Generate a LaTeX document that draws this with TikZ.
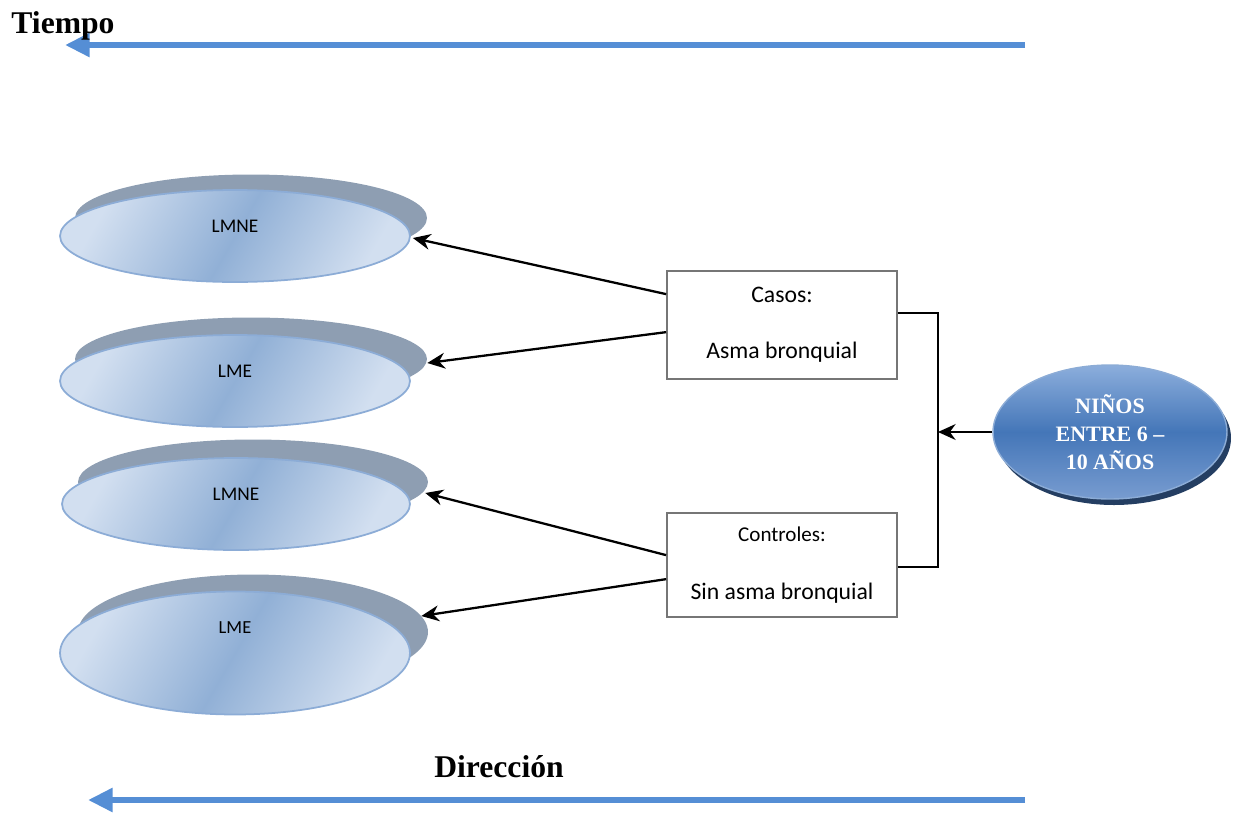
\documentclass[tikz,border=0pt]{standalone}
\usepackage{fontspec}
\setmainfont{Carlito}
\newfontfamily\serifbf{Liberation Serif}[BoldFont={Liberation Serif Bold}]
\usetikzlibrary{shapes.geometric,arrows.meta,calc}
\definecolor{flecha}{RGB}{85,142,213}
\definecolor{sombra}{RGB}{142,158,178}
\definecolor{borde}{RGB}{140,172,214}
\definecolor{clarito}{RGB}{210,223,240}
\definecolor{medio}{RGB}{145,176,214}
\definecolor{gris}{RGB}{118,118,118}
\definecolor{azulalto}{RGB}{140,174,220}
\definecolor{azulmedio}{RGB}{68,118,184}
\definecolor{azulbajo}{RGB}{120,156,208}
\definecolor{marino}{RGB}{36,62,98}
\tikzset{
  fondo/.style={ellipse,fill=sombra,draw=none,minimum width=7.04cm,minimum height=1.74cm,inner sep=0pt},
  ovalo/.style={ellipse,draw=borde,line width=1pt,left color=clarito,right color=clarito,middle color=medio,shading angle=60,minimum width=7cm,minimum height=1.84cm,inner sep=0pt},
  caja/.style={draw=gris,line width=1pt,fill=white,minimum width=4.6cm,minimum height=2.16cm,align=center,inner sep=0pt},
  flechaazul/.style={flecha,line width=3.4pt,-{Triangle[length=14pt,width=13pt]}},
  flechanegra/.style={line width=1.3pt,-{Stealth[length=10pt,width=9pt]}},
  rotulo/.style={font=\fontsize{11}{13}\selectfont}
}
\begin{document}
\begin{tikzpicture}[x=0.02cm,y=-0.02cm]
      \useasboundingbox (0,0) rectangle (1235,815);
      % flechas de tiempo y direccion
      \coordinate (t0) at (1025,45);
      \coordinate (t1) at (65,45);
      \draw[flechaazul] (t0) -- (t1);
      \node[anchor=base,font=\serifbf\bfseries\fontsize{18}{20}\selectfont] (tiempo) at (63,33) {Tiempo};
      \coordinate (d0) at (1025,800);
      \coordinate (d1) at (88,800);
      \draw[flechaazul] (d0) -- (d1);
      \node[anchor=base,font=\serifbf\bfseries\fontsize{18}{20}\selectfont] (direccion) at (499,777) {Dirección};
      % ovalos
      \node[fondo] (sh1) at (251,218) {};
      \node[ovalo] (e1) at (235,236) {};
      \node[rotulo] (l1) at ($(e1)+(0,-10)$) {LMNE};
      \node[fondo,minimum height=1.66cm] (sh2) at (251,359) {};
      \node[ovalo] (e2) at (235,381) {};
      \node[rotulo] (l2) at ($(e2)+(0,-10)$) {LME};
      \node[fondo,minimum width=7cm,minimum height=1.7cm] (sh3) at (253,482) {};
      \node[ovalo,minimum width=6.96cm] (e3) at (236,504) {};
      \node[rotulo] (l3) at ($(e3)+(0,-10)$) {LMNE};
      \node[fondo,minimum width=7cm,minimum height=2.3cm] (sh4) at (253,632) {};
      \node[ovalo,minimum height=2.46cm] (e4) at (235,653) {};
      \node[rotulo,font=\fontsize{10.5}{12}\selectfont] (l4) at ($(e4)+(0,-25)$) {LME};
      % grupos
      \node[caja,font=\fontsize{13.5}{16}\selectfont] (casos) at (782,325) {Casos:\\[16pt]Asma bronquial};
      \node[caja,font=\fontsize{12}{14}\selectfont,minimum height=2.08cm] (controles) at (782,565) {Controles:\\[19pt]{\fontsize{13.5}{16}\selectfont Sin asma bronquial}};
      \draw[flechanegra] ($(casos.north west)+(0,24)$) -- ($(e1.east)+(2,2)$);
      \draw[flechanegra] ($(casos.north west)+(0,62)$) -- ($(sh2.east)+(0,4)$);
      \draw[flechanegra] ($(controles.north west)+(0,43)$) -- ($(sh3.east)+(-3,11)$);
      \draw[flechanegra] ($(controles.north west)+(0,67)$) -- ($(sh4.east)+(-7,-16)$);
      % poblacion
      \fill[marino] (1114,438) ellipse (117 and 67);
      \node[ellipse,draw=borde,line width=0.8pt,top color=azulalto,bottom color=azulbajo,middle color=azulmedio,
            minimum width=4.68cm,minimum height=2.68cm,inner sep=0pt,align=center,text=white,
            font=\serifbf\bfseries\fontsize{12.5}{16}\selectfont] (ninos) at (1110,432) {NIÑOS\\ENTRE 6 –\\10 AÑOS};
      \coordinate (union) at (938,432);
      \draw[line width=0.8pt] ($(casos.east)+(0,-12)$) -| (union) |- ($(controles.east)+(0,2)$);
      \draw[flechanegra] (ninos.west) -- (union);
\end{tikzpicture}
\end{document}
